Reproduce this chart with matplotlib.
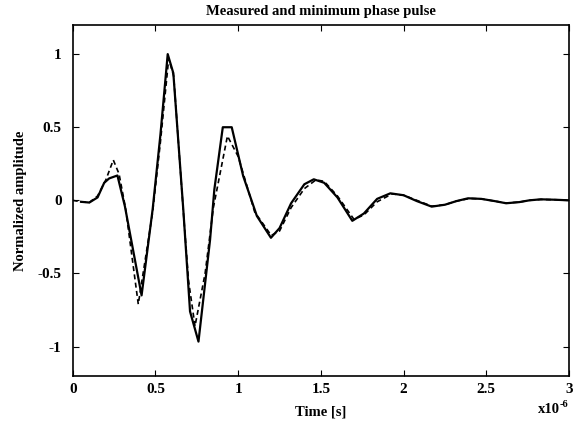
import matplotlib
matplotlib.use('Agg')
import matplotlib.pyplot as plt

# measured pulse (time in microseconds)
t_meas = [0.05, 0.10, 0.15, 0.19, 0.22, 0.27, 0.315, 0.416, 0.483, 0.53, 0.574, 0.608,
          0.668, 0.709, 0.76, 0.83, 0.856, 0.907, 0.961, 1.03, 1.113, 1.198, 1.25, 1.32,
          1.40, 1.457, 1.52, 1.60, 1.69, 1.76, 1.84, 1.92, 2.00, 2.08, 2.17, 2.25, 2.32,
          2.39, 2.47, 2.55, 2.62, 2.70, 2.76, 2.83, 2.92, 3.00]
y_meas = [-0.01, -0.015, 0.02, 0.12, 0.15, 0.17, -0.04, -0.65, -0.06, 0.45, 1.0, 0.87,
          -0.06, -0.76, -0.966, -0.27, 0.075, 0.5, 0.5, 0.167, -0.107, -0.256, -0.19, -0.02,
          0.11, 0.144, 0.12, 0.02, -0.14, -0.09, 0.01, 0.048, 0.035, -0.005, -0.043, -0.03, -0.005,
          0.014, 0.01, -0.005, -0.02, -0.012, 0.0, 0.007, 0.004, 0.0]

# minimum phase pulse
t_min = [0.0, 0.05, 0.10, 0.15, 0.20, 0.245, 0.28, 0.32, 0.396, 0.483, 0.53, 0.58, 0.61,
         0.67, 0.70, 0.739, 0.80, 0.85, 0.935, 1.0, 1.1, 1.2, 1.25, 1.32, 1.40, 1.47, 1.52,
         1.60, 1.70, 1.76, 1.84, 1.93, 2.00, 2.08, 2.17, 2.25, 2.32, 2.40, 2.47, 2.55, 2.62,
         2.70, 2.76, 2.83, 2.92, 3.00]
y_min = [0.0, -0.01, -0.015, 0.03, 0.14, 0.276, 0.18, -0.06, -0.71, -0.08, 0.40, 0.97, 0.85,
         -0.10, -0.55, -0.86, -0.50, -0.05, 0.44, 0.30, -0.08, -0.24, -0.21, -0.05, 0.08, 0.14, 0.13,
         0.03, -0.13, -0.10, -0.01, 0.044, 0.035, 0.0, -0.04, -0.03, -0.005, 0.013, 0.01, -0.005, -0.018,
         -0.012, 0.0, 0.006, 0.004, 0.0]

xticks = [0, 0.5, 1, 1.5, 2, 2.5, 3]
yticks = [-1, -0.5, 0, 0.5, 1]

plt.rcParams['font.family'] = ['Liberation Serif', 'DejaVu Serif']
plt.rcParams['font.weight'] = 'bold'
plt.rcParams['axes.titleweight'] = 'bold'
plt.rcParams['axes.labelweight'] = 'bold'

fig = plt.figure(figsize=(5.73, 4.29), dpi=100)
ax = fig.add_axes([0.127, 0.124, 0.866, 0.818])

ax.plot(t_meas, y_meas, color='black', lw=1.6, ls='-')
ax.plot(t_min, y_min, color='black', lw=1.2, ls=(0, (3, 2)))

ax.set_xlim(0, 3)
ax.set_ylim(-1.2, 1.2)
ax.set_xticks(xticks)
ax.set_xticklabels(['0', '0.5', '1', '1.5', '2', '2.5', '3'])
ax.set_yticks(yticks)
ax.set_yticklabels(['-1', '-0.5', '0', '0.5', '1'])
ax.tick_params(direction='in', top=True, right=True, length=4, labelsize=11, pad=5)
ax.tick_params(axis='y', pad=8)
for s in ax.spines.values():
    s.set_linewidth(1.2)

ax.set_title('Measured and minimum phase pulse', fontsize=10.5, pad=7)
ax.set_xlabel('Time [s]', fontsize=10.5, labelpad=7)
ax.set_ylabel('Normalized amplitude', fontsize=10.5, labelpad=8)

fig.text(0.939, 0.037, 'x10', fontsize=10.5, ha='left', va='baseline', weight='bold')
fig.text(0.976, 0.052, '-6', fontsize=7.5, ha='left', va='baseline', weight='bold')

fig.savefig('out.png', dpi=100)
